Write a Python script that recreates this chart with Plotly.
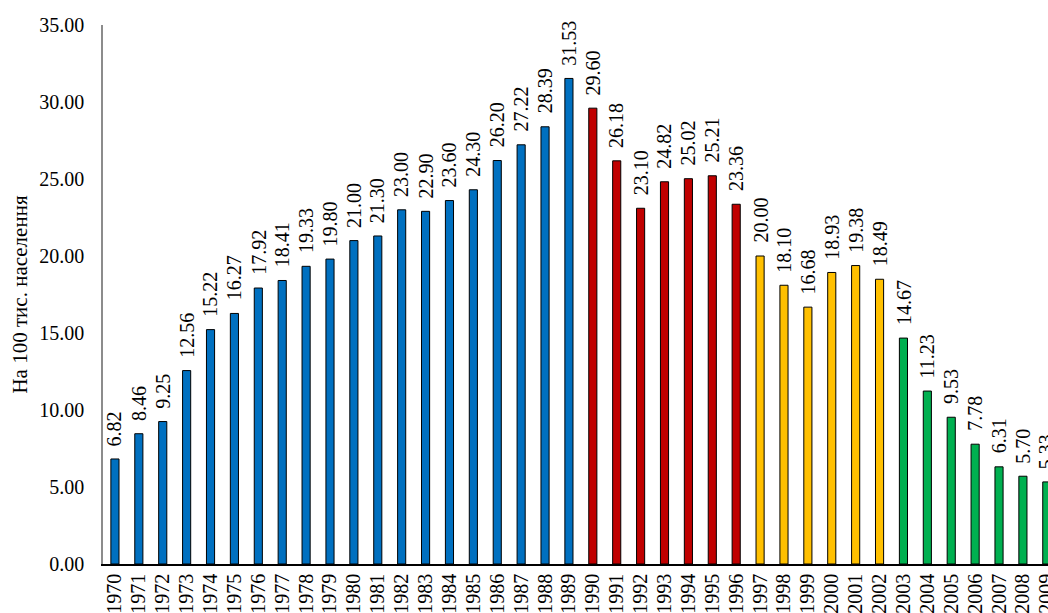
import plotly.graph_objects as go

# Rate per 100 thousand population, 1970-2009
years = [str(y) for y in range(1970, 2010)]
rates = [
    6.82, 8.46, 9.25, 12.56, 15.22, 16.27, 17.92, 18.41, 19.33, 19.80,
    21.00, 21.30, 23.00, 22.90, 23.60, 24.30, 26.20, 27.22, 28.39, 31.53,
    29.60, 26.18, 23.10, 24.82, 25.02, 25.21, 23.36,
    20.00, 18.10, 16.68, 18.93, 19.38, 18.49,
    14.67, 11.23, 9.53, 7.78, 6.31, 5.70, 5.33,
]

# Periods are coloured separately; each starts at the given year
period_starts = [1970, 1990, 1997, 2003]
period_colors = ["#0070C0", "#C00000", "#FFC000", "#00B050"]

y_ticks = [0, 5, 10, 15, 20, 25, 30, 35]
y_title = "На 100 тис. населення"

FONT = "Liberation Serif, Times New Roman, serif"


def color_for(year):
    col = period_colors[0]
    for start, c in zip(period_starts, period_colors):
        if int(year) >= start:
            col = c
    return col


bar_colors = [color_for(y) for y in years]

fig = go.Figure()
fig.add_trace(go.Bar(
    x=years,
    y=rates,
    width=0.34,
    marker=dict(color=bar_colors, line=dict(color="#000000", width=1)),
    hoverinfo="x+y",
))

# Value labels above each bar, rotated (x given as category index)
for idx, v in enumerate(rates):
    fig.add_annotation(
        x=idx, y=v, xref="x", yref="y",
        text=f"{v:.2f}",
        textangle=-90,
        showarrow=False,
        xanchor="center", yanchor="bottom",
        yshift=11,
        font=dict(family=FONT, size=20, color="#000000"),
    )

fig.update_layout(
    width=1048,
    height=613,
    margin=dict(l=103, r=0, t=25, b=49),
    paper_bgcolor="#FFFFFF",
    plot_bgcolor="#FFFFFF",
    showlegend=False,
    font=dict(family=FONT, size=20, color="#000000"),
)

fig.update_xaxes(
    type="category",
    range=[-0.5, 39.05],
    tickmode="linear",
    dtick=1,
    tickangle=-90,
    showline=True,
    linecolor="#000000",
    linewidth=1.5,
    ticks="",
    showgrid=False,
    automargin=False,
    tickfont=dict(family=FONT, size=20, color="#000000"),
)

fig.update_yaxes(
    range=[0, 35],
    tickvals=y_ticks,
    tickformat=".2f",
    showline=True,
    linecolor="#8C8C8C",
    linewidth=1.5,
    ticks="",
    ticklabelstandoff=13,
    showgrid=False,
    zeroline=False,
    automargin=False,
    tickfont=dict(family=FONT, size=20, color="#000000"),
    title=dict(text=y_title, standoff=6, font=dict(family=FONT, size=21, color="#000000")),
)

fig.write_html("out.html")
